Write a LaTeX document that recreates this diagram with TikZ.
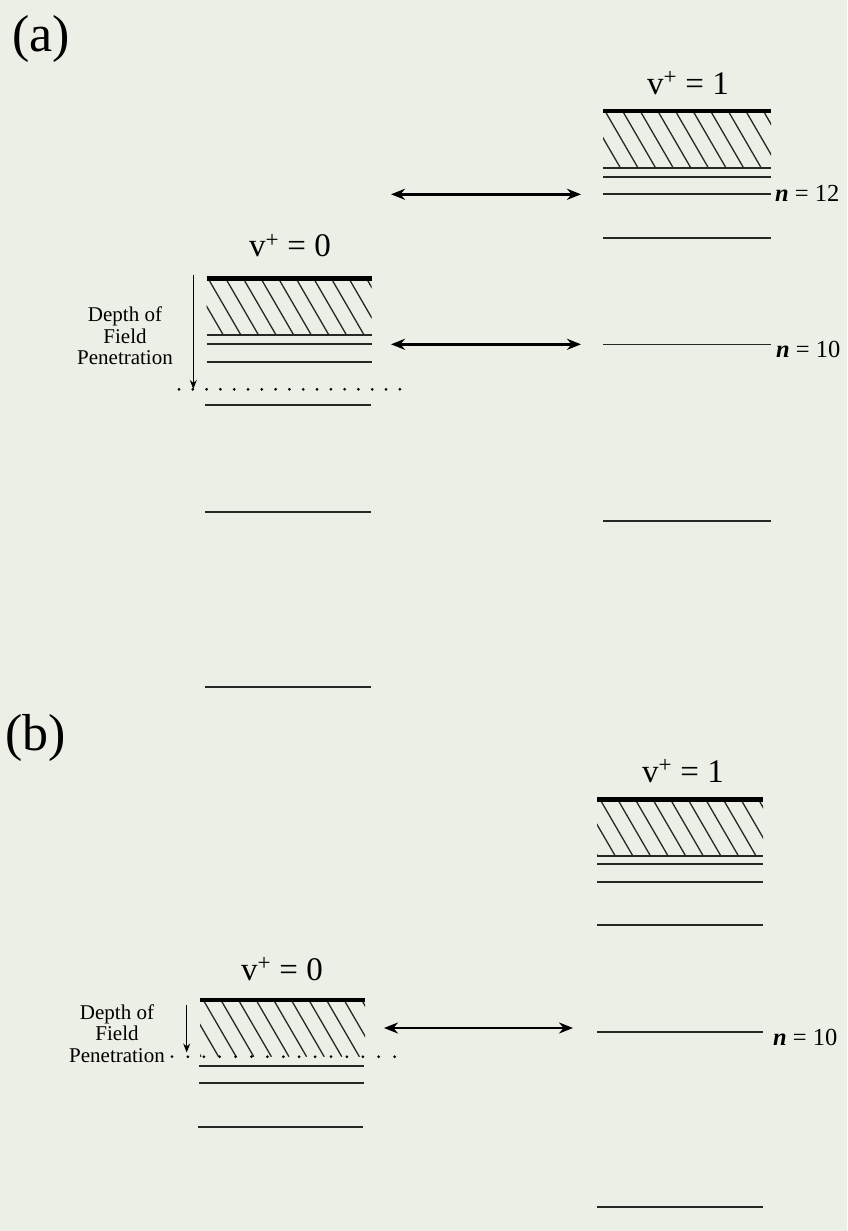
\documentclass[tikz,border=0pt]{standalone}
\usepackage{fontspec}
\setmainfont{Liberation Serif}
\usetikzlibrary{arrows.meta}
\definecolor{paper}{RGB}{236,239,230}
\definecolor{ink}{RGB}{38,40,38}
\newcommand{\hatchbox}[5]{%
  \begin{scope}
    \clip (#1,#3) rectangle (#2,#4);
    \foreach \k in {-5,...,12}{
      \draw[hatchline] ({#5+\k*17.6},#3) -- ++({0.58*(#4-#3)},{#4-#3});
    }
  \end{scope}}
\newcommand{\dotrow}[4]{% xstart ystart count spacing
  \foreach \i in {0,...,#3}{
    \fill[black] ({#1+\i*#4},#2) circle (1.5pt);
  }}
\begin{document}
\begin{tikzpicture}[x=1pt,y=-1pt,
  level/.style={draw=ink, line width=1.8pt},
  topline/.style={draw=black, line width=4.6pt},
  hatchline/.style={draw=ink, line width=1.3pt},
  trans/.style={draw=black, line width=2.5pt,
    {Stealth[length=14pt,width=11pt]}-{Stealth[length=14pt,width=11pt]}},
  depth/.style={draw=black, line width=1.3pt, -{Stealth[length=9pt,width=7pt]}},
  lab/.style={inner sep=0pt, text=black},
  vlab/.style={lab, anchor=base, font=\fontsize{33}{38}\selectfont},
  nlab/.style={lab, anchor=base west, font=\fontsize{24.5}{28}\selectfont},
  plab/.style={lab, anchor=base west, font=\fontsize{52}{60}\selectfont},
  dlab/.style={lab, anchor=north, align=center, font=\fontsize{21}{21.5}\selectfont},
  ]
\fill[paper] (0,0) rectangle (847,1231);
\useasboundingbox (0,0) rectangle (847,1231);

% ================= (a) =================
\node[plab] (pa) at (12,52) {(a)};

% right stack v+=1
\node[vlab] (va1) at (688,94) {v\textsuperscript{+} = 1};
\hatchbox{603}{771}{111}{168}{605}
\draw[topline] (603,111) -- (771,111);
\draw[level] (603,168) -- (771,168);
\draw[level] (603,176.7) -- (771,176.7);
\draw[level] (603,194.3) -- (771,194.3);
\draw[level] (603,238.3) -- (771,238.3);
\draw[level] (603,344.5) -- (771,344.5);
\draw[level] (603,521) -- (771,521);
\node[nlab] (na12) at (775,201.7) {\textbf{\textit{n}} = 12};
\node[nlab] (na10) at (776,357) {\textbf{\textit{n}} = 10};

% left stack v+=0
\node[vlab] (va0) at (290,256.7) {v\textsuperscript{+} = 0};
\hatchbox{206.5}{371.5}{278.3}{335}{208}
\draw[topline] (206.5,278.3) -- (371.5,278.3);
\draw[level] (206.5,335) -- (371.5,335);
\draw[level] (206.5,344) -- (371.5,344);
\draw[level] (206.5,361.7) -- (371.5,361.7);
\dotrow{179}{389.3}{16}{13.8}
\draw[level] (205,405) -- (371,405);
\draw[level] (205,511.7) -- (371,511.7);
\draw[level] (205,686.7) -- (371,686.7);

\node[dlab] (da) at (125,307) {Depth of\\Field\\Penetration};
\coordinate (dat) at (193.3,275);
\coordinate (dab) at (193.3,389);
\draw[depth] (dat) -- (dab);

% transitions
\coordinate (ta1l) at (391,194.3);
\coordinate (ta1r) at (581,194.3);
\draw[trans] (ta1l) -- (ta1r);
\coordinate (ta2l) at (391,344.3);
\coordinate (ta2r) at (581,344.3);
\draw[trans] (ta2l) -- (ta2r);

% ================= (b) =================
\node[plab] (pb) at (5,750) {(b)};

% right stack v+=1
\node[vlab] (vb1) at (683,782) {v\textsuperscript{+} = 1};
\hatchbox{597}{763}{799.3}{856}{600}
\draw[topline] (597,799.3) -- (763,799.3);
\draw[level] (597,856) -- (763,856);
\draw[level] (597,864.3) -- (763,864.3);
\draw[level] (597,882.3) -- (763,882.3);
\draw[level] (597,925) -- (763,925);
\draw[level] (597,1031.7) -- (763,1031.7);
\draw[level] (597,1206.7) -- (763,1206.7);
\node[nlab] (nb10) at (773,1045) {\textbf{\textit{n}} = 10};

% left stack v+=0
\node[vlab] (vb0) at (282,980) {v\textsuperscript{+} = 0};
\hatchbox{200}{365}{1000}{1056.7}{203.3}
\draw[topline] (200,1000) -- (365,1000);
\dotrow{172}{1056.7}{14}{15.9}
\draw[level] (199,1066) -- (364,1066);
\draw[level] (199,1082.7) -- (364,1082.7);
\draw[level] (198,1127) -- (363,1127);

\node[dlab] (db) at (117,1004.5) {Depth of\\Field\\Penetration};
\coordinate (dbt) at (186.7,1005);
\coordinate (dbb) at (186.7,1052.5);
\draw[depth] (dbt) -- (dbb);

\coordinate (tbl) at (384,1028);
\coordinate (tbr) at (573,1028);
\draw[trans] (tbl) -- (tbr);
\end{tikzpicture}
\end{document}
